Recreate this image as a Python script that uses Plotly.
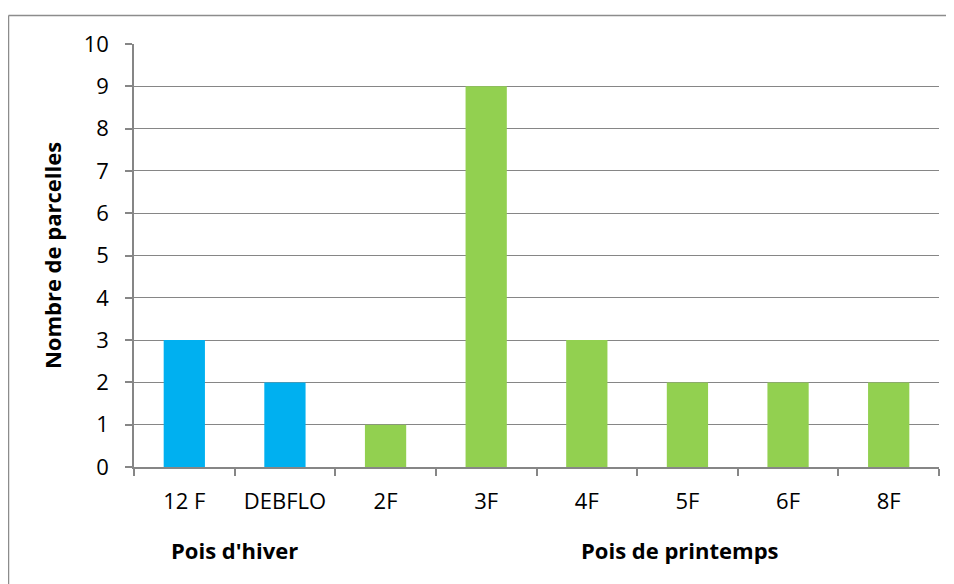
import plotly.graph_objects as go

categories = ["12 F", "DEBFLO", "2F", "3F", "4F", "5F", "6F", "8F"]
values = [3, 2, 1, 9, 3, 2, 2, 2]
groups = ["Pois d'hiver", "Pois d'hiver", "Pois de printemps", "Pois de printemps",
          "Pois de printemps", "Pois de printemps", "Pois de printemps", "Pois de printemps"]
group_colors = {"Pois d'hiver": "#00B0F0", "Pois de printemps": "#92D050"}
y_ticks = list(range(0, 11))

FONT = "Open Sans"
GRID = "#868686"

fig = go.Figure(go.Bar(
    x=categories, y=values,
    marker=dict(color=[group_colors[g] for g in groups], line=dict(width=0)),
    showlegend=False,
))

# page body has an 8px margin: figure starts at page (8, 8)
OFF = 8
W, H = 954 - OFF, 584 - OFF
L, R, T = 134 - OFF, 15, 44 - OFF
B = H - (466.7 - OFF)
pw, ph = W - L - R, H - T - B

def px(xp):
    return (xp - OFF - L) / pw

def py(yp):
    return (H - B - (yp - OFF)) / ph

border = dict(color="#8C8C8C", width=1.5)

fig.update_layout(
    width=W, height=H,
    margin=dict(l=L, r=R, t=T, b=B, pad=0),
    paper_bgcolor="white", plot_bgcolor="white",
    bargap=0.59,
    font=dict(family=FONT, size=22, color="#000000"),
    xaxis=dict(
        type="category", showgrid=False, showline=True, linecolor=GRID, linewidth=1.5,
        ticks="outside", tickson="boundaries", ticklen=7, tickcolor=GRID, tickwidth=1.5,
        ticklabelstandoff=14, tickfont=dict(family=FONT, size=22),
    ),
    yaxis=dict(
        range=[0, 10], tickvals=y_ticks, showgrid=True, gridcolor=GRID, gridwidth=1.2,
        showline=True, linecolor=GRID, linewidth=1.5, zeroline=False,
        ticks="outside", ticklen=7, tickcolor=GRID, tickwidth=1.5,
        ticklabelstandoff=12, tickfont=dict(family=FONT, size=22),
        title=dict(text="<b>Nombre de parcelles</b>", font=dict(family=FONT, size=22), standoff=16),
    ),
    annotations=[
        dict(text="<b>Pois d'hiver</b>", x=0.5, xref="x", y=py(550), yref="paper",
             showarrow=False, font=dict(family=FONT, size=22), xanchor="center", yanchor="middle"),
        dict(text="<b>Pois de printemps</b>", x=px(680), xref="paper", y=py(550), yref="paper",
             showarrow=False, font=dict(family=FONT, size=22), xanchor="center", yanchor="middle"),
    ],
    shapes=[
        dict(type="line", xref="paper", yref="paper", x0=px(8.5), x1=px(8.5),
             y0=py(584 + 20), y1=py(15.5), line=border, layer="below"),
        dict(type="line", xref="paper", yref="paper", x0=px(8.5), x1=px(954 + 20),
             y0=py(15.5), y1=py(15.5), line=border, layer="below"),
    ],
)

fig.write_html("out.html")
